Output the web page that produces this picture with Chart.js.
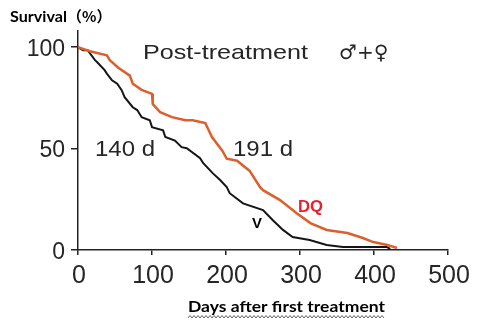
<!DOCTYPE html>
<html>
<head>
<meta charset="utf-8">
<script src="https://cdn.jsdelivr.net/npm/chart.js@4.4.1/dist/chart.umd.min.js"></script>
<style>
html,body{margin:0;padding:0;background:#fff;}
#c{display:block;}
</style>
</head>
<body>
<canvas id="c" width="478" height="327"></canvas>
<script>
// ---- data ----
const vDays  = [0,7,13,23,26,36,39,46,53,59,63,74,80,86,97,100,115,118,131,140,147,165,169,182,192,201,205,223,250,263,277,290,313,336,358,417,422];
const vSurv  = [100,98.5,98.5,93.6,92.6,88.7,87,83.7,82,78.8,75.4,70.4,69,65.5,64,60.6,59,55.7,54,50.7,50.2,45.3,42.9,37.9,34.5,31,28,23,19.7,14.8,9.9,6.4,4.9,2.5,1.5,1.5,0.5];
const dqDays = [0,16,39,43,54,70,74,86,100,101,111,127,145,155,172,181,195,201,215,232,246,250,273,296,314,336,364,385,399,418,431];
const dqSurv = [100,98,96,93.6,90,86,82,79,77,72,68,65.5,64,64,62.6,55.7,49,45,44,39,31,29.5,24.6,18,13.3,9.9,8.4,5.9,3.9,2.5,1];
const xTicks = [0,100,200,300,400,500];
const yTicks = [0,50,100];
const seriesNames = ['V','DQ'];
const medianLabels = ['140 d','191 d'];
const titleText = 'Post-treatment';
const sexText = '♂+♀';
const yTitle = 'Survival';
const yUnit = '（%）';
const xTitle = 'Days after first treatment';

const toPts = (xs, ys) => xs.map((x, i) => ({x: x, y: ys[i]}));

function txt(ctx, s, x, y, font, color, align, w) {
  ctx.save();
  ctx.font = font;
  ctx.fillStyle = color;
  ctx.textBaseline = 'alphabetic';
  ctx.textAlign = 'left';
  const m = ctx.measureText(s).width;
  const k = w ? w / m : 1;
  let x0 = x;
  if (align === 'right') x0 = x - m * k;
  else if (align === 'center') x0 = x - m * k / 2;
  ctx.translate(x0, y);
  ctx.scale(k, 1);
  ctx.fillText(s, 0, 0);
  ctx.restore();
}

const textPlugin = {
  id: 'texts',
  afterDraw(chart) {
    const ctx = chart.ctx;
    const xs = chart.scales.x, ys = chart.scales.y;
    const ink = '#262626';
    // y tick labels
    yTicks.forEach(v => {
      const py = ys.getPixelForValue(v);
      txt(ctx, String(v), 65, py + 8.5, '23px "Liberation Sans", Arial, sans-serif', ink, 'right');
    });
    // x tick labels
    xTicks.forEach(v => {
      const px = xs.getPixelForValue(v);
      txt(ctx, String(v), px + 1, 283, '25px "Liberation Sans", Arial, sans-serif', ink, 'center');
    });
    // in-plot texts
    txt(ctx, titleText, 143, 59, '21px "Liberation Sans", Arial, sans-serif', ink, 'left', 165);
    txt(ctx, sexText, 339, 59, '20px "DejaVu Sans", sans-serif', ink, 'left');
    txt(ctx, medianLabels[0], 95, 156, '22px "Liberation Sans", Arial, sans-serif', ink, 'left', 60);
    txt(ctx, medianLabels[1], 233, 156, '22px "Liberation Sans", Arial, sans-serif', ink, 'left', 60);
    txt(ctx, seriesNames[1], 298, 212, 'bold 16px "Liberation Sans", Arial, sans-serif', '#e8212b', 'left', 25);
    txt(ctx, seriesNames[0], 252, 228, 'bold 15px "Liberation Sans", Arial, sans-serif', '#000', 'left', 10);
    // axis titles
    txt(ctx, yTitle, 10, 22, 'bold 15px Lato, sans-serif', '#000', 'left', 57);
    txt(ctx, yUnit, 67, 22, 'bold 15px "Noto Sans CJK SC", sans-serif', '#000', 'left');
    txt(ctx, xTitle, 188, 312, 'bold 15px Lato, sans-serif', '#000', 'left', 197);
    // wavy underline
    ctx.save();
    ctx.strokeStyle = '#444';
    ctx.lineWidth = 0.8;
    ctx.beginPath();
    for (let x = 188, i = 0; x <= 385; x += 2, i++) {
      const y = (i % 2 === 0) ? 318 : 315.5;
      if (i === 0) ctx.moveTo(x, y); else ctx.lineTo(x, y);
    }
    ctx.stroke();
    ctx.restore();
  }
};

new Chart(document.getElementById('c'), {
  type: 'line',
  data: {
    datasets: [
      {
        label: seriesNames[1],
        data: toPts(dqDays, dqSurv),
        borderColor: '#dc5f2c',
        borderWidth: 2.5,
        pointRadius: 0,
        tension: 0,
        fill: false
      },
      {
        label: seriesNames[0],
        data: toPts(vDays, vSurv),
        borderColor: '#151515',
        borderWidth: 2,
        pointRadius: 0,
        tension: 0,
        fill: false
      }
    ]
  },
  options: {
    responsive: false,
    animation: false,
    layout: {padding: {left: 0, right: 30, top: 31, bottom: 0}},
    plugins: {legend: {display: false}, tooltip: {enabled: false}},
    scales: {
      x: {
        type: 'linear',
        min: 0, max: 500,
        grid: {display: true, drawOnChartArea: false, drawTicks: true, tickLength: 5, color: '#222', lineWidth: 1.5},
        border: {display: true, color: '#222', width: 1.5},
        ticks: {display: false},
        afterBuildTicks: s => { s.ticks = xTicks.map(v => ({value: v})); },
        afterFit: s => { s.height = 77; }
      },
      y: {
        type: 'linear',
        min: 0, max: 108,
        grid: {display: true, drawOnChartArea: false, drawTicks: true, tickLength: 7, color: '#222', lineWidth: 1.5},
        border: {display: true, color: '#222', width: 1.5},
        ticks: {display: false},
        afterBuildTicks: s => { s.ticks = yTicks.map(v => ({value: v})); },
        afterFit: s => { s.width = 78; }
      }
    }
  },
  plugins: [textPlugin]
});
</script>
</body>
</html>
